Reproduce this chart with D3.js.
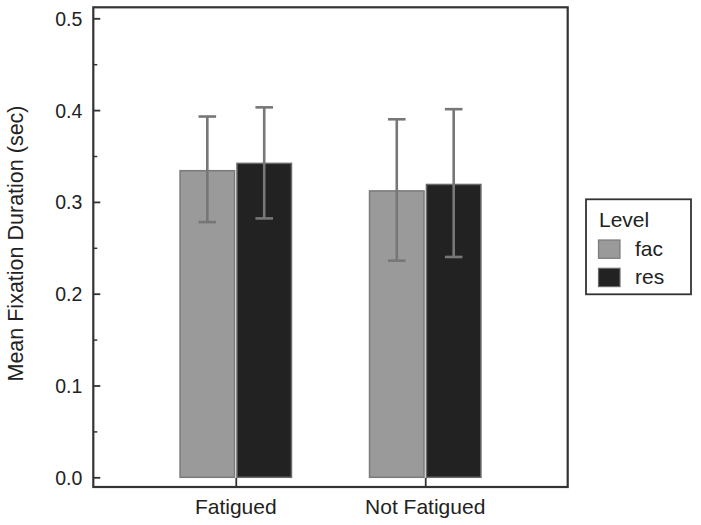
<!DOCTYPE html>
<html><head><meta charset="utf-8">
<script src="https://cdn.jsdelivr.net/npm/d3@7"></script>
<style>body{margin:0;background:#fff}svg{display:block}text{font-family:"Liberation Sans",Arial,sans-serif;fill:#222}</style>
</head><body>
<script>
const categories = ["Fatigued", "Not Fatigued"];
const levels = ["fac", "res"];
const facMean = [0.334, 0.312];
const facLow  = [0.278, 0.236];
const facHigh = [0.393, 0.390];
const resMean = [0.342, 0.319];
const resLow  = [0.282, 0.240];
const resHigh = [0.403, 0.401];
const yTicks = [0.0, 0.1, 0.2, 0.3, 0.4, 0.5];
const yMinorTicks = [0.05, 0.15, 0.25, 0.35, 0.45];

const colors = {fac: "#9a9a9a", res: "#222222"};
const strokes = {fac: "#7a7a7a", res: "#6a6a6a"};
const W = 701, H = 525;
const svg = d3.select("body").append("svg").attr("width", W).attr("height", H);

const pLeft = 93.3, pRight = 567.7, pTop = 7.3, pBottom = 487;
const y = d3.scaleLinear().domain([0, 0.5]).range([477.3, 18.3]);
const x = d3.scalePoint().domain(categories).range([pLeft, pRight]).padding(0.752);
const barW = 54.5, gap = 1.2;

const data = [];
categories.forEach((c, i) => {
  data.push({cat: c, level: "fac", mean: facMean[i], lo: facLow[i], hi: facHigh[i]});
  data.push({cat: c, level: "res", mean: resMean[i], lo: resLow[i], hi: resHigh[i]});
});
const bx = d => d.level === "fac" ? x(d.cat) - gap - barW : x(d.cat) + gap;

// bars
svg.selectAll("rect.bar").data(data).enter().append("rect")
  .attr("x", bx).attr("width", barW)
  .attr("y", d => y(d.mean)).attr("height", d => y(0) - y(d.mean))
  .attr("fill", d => colors[d.level]).attr("stroke", d => strokes[d.level]).attr("stroke-width", 1.5);

// error bars
const eb = svg.selectAll("g.eb").data(data).enter().append("g").attr("stroke", "#777").attr("stroke-width", 2.6);
eb.append("line").attr("x1", d => bx(d) + barW/2).attr("x2", d => bx(d) + barW/2)
  .attr("y1", d => y(d.lo)).attr("y2", d => y(d.hi));
eb.append("line").attr("x1", d => bx(d) + barW/2 - 8.8).attr("x2", d => bx(d) + barW/2 + 8.8)
  .attr("y1", d => y(d.hi)).attr("y2", d => y(d.hi));
eb.append("line").attr("x1", d => bx(d) + barW/2 - 8.8).attr("x2", d => bx(d) + barW/2 + 8.8)
  .attr("y1", d => y(d.lo)).attr("y2", d => y(d.lo));

// frame
svg.append("rect").attr("x", pLeft).attr("y", pTop).attr("width", pRight - pLeft).attr("height", pBottom - pTop)
  .attr("fill", "none").attr("stroke", "#333").attr("stroke-width", 2.2);

// y axis (ticks inside)
const yAxis = d3.axisRight(y).tickValues(yTicks).tickSize(7).tickFormat(d3.format(".1f"));
const gy = svg.append("g").attr("transform", `translate(${pLeft},0)`).call(yAxis);
gy.select(".domain").remove();
gy.selectAll(".tick line").attr("stroke", "#333").attr("stroke-width", 1.8);
gy.selectAll(".tick text").attr("x", -11).attr("text-anchor", "end").attr("dy", "0.36em")
  .style("font-size", "19.5px").style("font-family", "Liberation Sans, Arial, sans-serif").attr("fill", "#222");
const yMinor = d3.axisRight(y).tickValues(yMinorTicks).tickSize(4).tickFormat("");
const gm = svg.append("g").attr("transform", `translate(${pLeft},0)`).call(yMinor);
gm.select(".domain").remove();
gm.selectAll(".tick line").attr("stroke", "#333").attr("stroke-width", 1.5);

// x axis (ticks inside, pointing up)
const xAxis = d3.axisTop(x).tickSize(9).tickFormat("");
const gx = svg.append("g").attr("transform", `translate(0,${pBottom})`).call(xAxis);
gx.select(".domain").remove();
gx.selectAll(".tick line").attr("stroke", "#333").attr("stroke-width", 1.8);
svg.selectAll("text.xl").data(categories).enter().append("text")
  .attr("x", d => x(d)).attr("y", 514).attr("text-anchor", "middle")
  .style("font-size", "21px").text(d => d);

// y title
svg.append("text").attr("transform", "translate(23,243.5) rotate(-90)")
  .attr("text-anchor", "middle").style("font-size", "21.5px").text("Mean Fixation Duration (sec)");

// legend
const lg = svg.append("g");
lg.append("rect").attr("x", 586).attr("y", 199.3).attr("width", 105).attr("height", 95)
  .attr("fill", "#fff").attr("stroke", "#333").attr("stroke-width", 1.8);
lg.append("text").attr("x", 599).attr("y", 227).style("font-size", "21px").text("Level");
levels.forEach((l, i) => {
  lg.append("rect").attr("x", 598.5).attr("y", 240 + i * 28.3).attr("width", 21.5).attr("height", 18.3)
    .attr("fill", colors[l]).attr("stroke", strokes[l]).attr("stroke-width", 1.2);
  lg.append("text").attr("x", 635).attr("y", 256 + i * 27.5).style("font-size", "21px").text(l);
});
</script>
</body></html>
